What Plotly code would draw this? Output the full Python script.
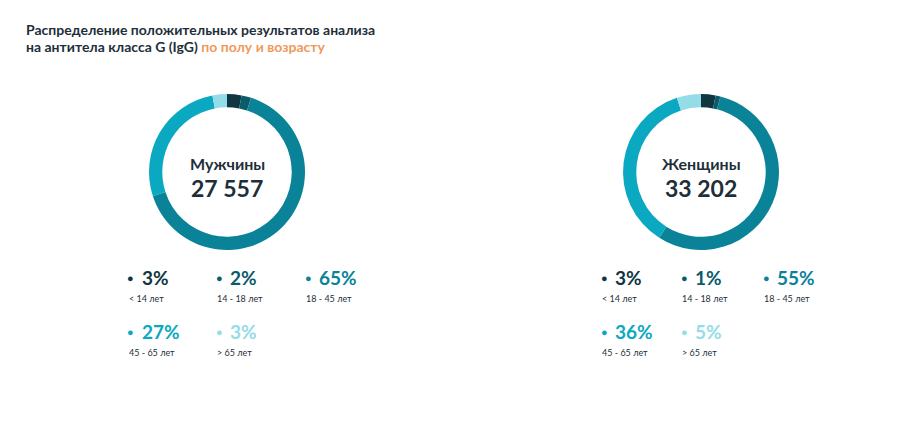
import plotly.graph_objects as go

groups = ["< 14 лет", "14 - 18 лет", "18 - 45 лет", "45 - 65 лет", "> 65 лет"]
men_pct = [3, 2, 65, 27, 3]
women_pct = [3, 1, 55, 36, 5]
men_total = "27 557"
women_total = "33 202"
colors = ["#0f3641", "#0b5b6b", "#0a8399", "#0ba9c1", "#95dce9"]

W, H = 911, 426
OX, OY = 7, 8
fig = go.Figure()

def px(x): return (x - OX) / W
def py(y): return 1 - (y - OY) / H

charts = [
    ("Мужчины", men_total, men_pct, 226, [130, 218, 307]),
    ("Женщины", women_total, women_pct, 700, [603, 683, 765]),
]
ann = []
for name, total, vals, cx, cols in charts:
    cy, r = 172, 78
    fig.add_trace(go.Pie(
        values=vals, labels=groups, hole=0.83, sort=False, direction="clockwise",
        rotation=0, marker=dict(colors=colors, line=dict(width=0)),
        textinfo="none", hoverinfo="label+percent", showlegend=False,
        domain=dict(x=[px(cx - r), px(cx + r)], y=[py(cy + r), py(cy - r)])))
    ann.append(dict(x=px(cx), y=py(163), text=f"<b>{name}</b>", showarrow=False,
                    xanchor="center", yanchor="middle",
                    font=dict(size=16, color="#1e2f3a", family="Lato")))
    ann.append(dict(x=px(cx), y=py(188), text=f"<b>{total}</b>", showarrow=False,
                    xanchor="center", yanchor="middle",
                    font=dict(size=23, color="#1e2f3a", family="Lato")))
    for i, (g, v) in enumerate(zip(groups, vals)):
        row, col = divmod(i, 3)
        x = cols[col]
        yp = 277 + row * 54
        ann.append(dict(x=px(x), y=py(yp), text="●", showarrow=False, xanchor="center",
                        yanchor="middle", font=dict(size=11, color=colors[i])))
        ann.append(dict(x=px(x + 9), y=py(yp), text=f"<b>{v}%</b>", showarrow=False,
                        xanchor="left", yanchor="middle",
                        font=dict(size=19, color=colors[i], family="Lato")))
        ann.append(dict(x=px(x - 4), y=py(yp + 21), text=g, showarrow=False,
                        xanchor="left", yanchor="middle",
                        font=dict(size=9, color="#1e2f3a", family="Lato")))

ann.append(dict(x=px(23), y=py(30), xanchor="left", yanchor="middle", showarrow=False,
                text="<b>Распределение положительных результатов анализа</b>",
                font=dict(size=14, color="#1e2f3a", family="Lato")))
ann.append(dict(x=px(23), y=py(47), xanchor="left", yanchor="middle", showarrow=False,
                text="<b>на антитела класса G (IgG) <span style='color:#f0995a'>по полу и возрасту</span></b>",
                font=dict(size=14, color="#1e2f3a", family="Lato")))

fig.update_layout(width=W, height=H, margin=dict(l=0, r=0, t=0, b=0),
                  paper_bgcolor="white", plot_bgcolor="white", annotations=ann)
fig.write_html("out.html")
